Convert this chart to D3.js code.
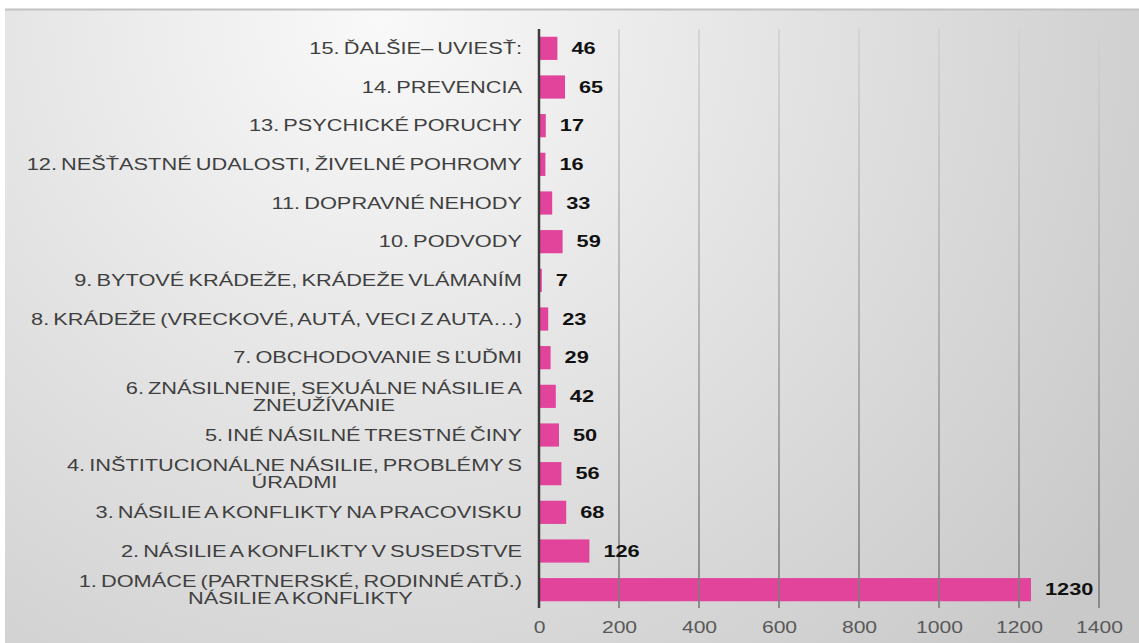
<!DOCTYPE html>
<html>
<head>
<meta charset="utf-8">
<script src="https://cdn.jsdelivr.net/npm/d3@7"></script>
<style>
  body { margin: 0; background: #fff; }
  svg { display: block; }
</style>
</head>
<body>
<div id="chart"></div>
<script>
// categories from top to bottom, "\n" marks a line break in the label
const categories = [
  "15. ĎALŠIE– UVIESŤ:",
  "14. PREVENCIA",
  "13. PSYCHICKÉ PORUCHY",
  "12. NEŠŤASTNÉ UDALOSTI, ŽIVELNÉ POHROMY",
  "11. DOPRAVNÉ NEHODY",
  "10. PODVODY",
  "9. BYTOVÉ KRÁDEŽE, KRÁDEŽE VLÁMANÍM",
  "8. KRÁDEŽE (VRECKOVÉ, AUTÁ, VECI Z AUTA…)",
  "7. OBCHODOVANIE S ĽUĎMI",
  "6. ZNÁSILNENIE, SEXUÁLNE NÁSILIE A\nZNEUŽÍVANIE",
  "5. INÉ NÁSILNÉ TRESTNÉ ČINY",
  "4. INŠTITUCIONÁLNE NÁSILIE, PROBLÉMY S\nÚRADMI",
  "3. NÁSILIE A KONFLIKTY NA PRACOVISKU",
  "2. NÁSILIE A KONFLIKTY V SUSEDSTVE",
  "1. DOMÁCE (PARTNERSKÉ, RODINNÉ ATĎ.)\nNÁSILIE A KONFLIKTY"
];
const values = [46, 65, 17, 16, 33, 59, 7, 23, 29, 42, 50, 56, 68, 126, 1230];
const xTicks = [0, 200, 400, 600, 800, 1000, 1200, 1400];

const W = 1139, H = 643;
const stretch = 1.32; // the source picture is stretched horizontally

const svg = d3.select("#chart")
  .append("svg")
  .attr("width", W)
  .attr("height", H);

const defs = svg.append("defs");

const bg = defs.append("radialGradient")
  .attr("id", "bgGrad")
  .attr("gradientUnits", "userSpaceOnUse")
  .attr("cx", 380).attr("cy", 20).attr("r", 900);
bg.append("stop").attr("offset", "0%").attr("stop-color", "#f9f9f9");
bg.append("stop").attr("offset", "100%").attr("stop-color", "#c9c9c9");

const gridGrad = defs.append("linearGradient")
  .attr("id", "gridGrad")
  .attr("gradientUnits", "userSpaceOnUse")
  .attr("x1", 0).attr("y1", 29).attr("x2", 0).attr("y2", 608);
gridGrad.append("stop").attr("offset", "0%").attr("stop-color", "#d2d2d2");
gridGrad.append("stop").attr("offset", "100%").attr("stop-color", "#7a7a7a");

// background panel
svg.append("rect")
  .attr("x", 5).attr("y", 9)
  .attr("width", W - 5).attr("height", H - 9)
  .attr("fill", "url(#bgGrad)");

svg.append("line")
  .attr("x1", 5).attr("x2", W)
  .attr("y1", 9.5).attr("y2", 9.5)
  .attr("stroke", "#c2c2c2")
  .attr("stroke-width", 2);

const x = d3.scaleLinear()
  .domain([0, 1400])
  .range([539, 1099]);

const y = d3.scaleBand()
  .domain(categories)
  .range([29, 609])
  .paddingInner(0.4)
  .paddingOuter(0.2);

// Bars
svg.selectAll("rect.bar")
  .data(categories)
  .enter()
  .append("rect")
  .attr("class", "bar")
  .attr("x", x(0))
  .attr("y", d => y(d))
  .attr("width", (d, i) => x(values[i]) - x(0))
  .attr("height", y.bandwidth())
  .attr("fill", "#e2449b");

// Gridlines
svg.selectAll("line.grid")
  .data(xTicks.slice(1))
  .enter()
  .append("line")
  .attr("class", "grid")
  .attr("x1", d => x(d)).attr("x2", d => x(d))
  .attr("y1", 29).attr("y2", 608)
  .attr("stroke", "url(#gridGrad)")
  .attr("stroke-opacity", 0.8)
  .attr("stroke-width", 2);

// Vertical axis line at zero
svg.append("line")
  .attr("x1", x(0)).attr("x2", x(0))
  .attr("y1", 29).attr("y2", 608)
  .attr("stroke", "#3d3d3d")
  .attr("stroke-width", 2.5);

// X axis tick labels
const xAxis = svg.append("g")
  .attr("transform", "translate(0,619)")
  .call(d3.axisBottom(x).tickValues(xTicks).tickFormat(d3.format("d")).tickSize(0).tickPadding(3));
xAxis.select(".domain").remove();
xAxis.selectAll("text")
  .attr("transform", `scale(${stretch},1)`)
  .style("font-family", "'Liberation Sans', Arial, sans-serif")
  .style("font-size", "16px")
  .attr("fill", "#595959");

// Category labels
const labels = svg.selectAll("g.label")
  .data(categories)
  .enter()
  .append("g")
  .attr("class", "label")
  .attr("transform", d => `translate(522,${y(d) + y.bandwidth() / 2}) scale(${stretch},1)`)
  .style("font-family", "'Liberation Sans', Arial, sans-serif")
  .style("font-size", "16.5px")
  .style("word-spacing", "-1.5px")
  .attr("fill", "#404040");

labels.each(function(d) {
  const g = d3.select(this);
  const lines = d.split("\n");
  if (lines.length === 1) {
    g.append("text")
      .attr("text-anchor", "end")
      .attr("dy", "0.35em")
      .text(lines[0]);
  } else {
    const first = g.append("text")
      .attr("text-anchor", "end")
      .attr("y", -8)
      .attr("dy", "0.35em")
      .text(lines[0]);
    const len = first.node().getComputedTextLength();
    g.append("text")
      .attr("text-anchor", "middle")
      .attr("x", -len / 2)
      .attr("y", 9)
      .attr("dy", "0.35em")
      .text(lines[1]);
  }
});

// Value labels
svg.selectAll("text.value")
  .data(categories)
  .enter()
  .append("text")
  .attr("class", "value")
  .attr("transform", (d, i) => `translate(${x(values[i]) + 14},${y(d) + y.bandwidth() / 2}) scale(${stretch},1)`)
  .attr("dy", "0.35em")
  .style("font-family", "'Liberation Sans', Arial, sans-serif")
  .style("font-size", "16.5px")
  .style("font-weight", "bold")
  .attr("fill", "#111")
  .text((d, i) => values[i]);
</script>
</body>
</html>
